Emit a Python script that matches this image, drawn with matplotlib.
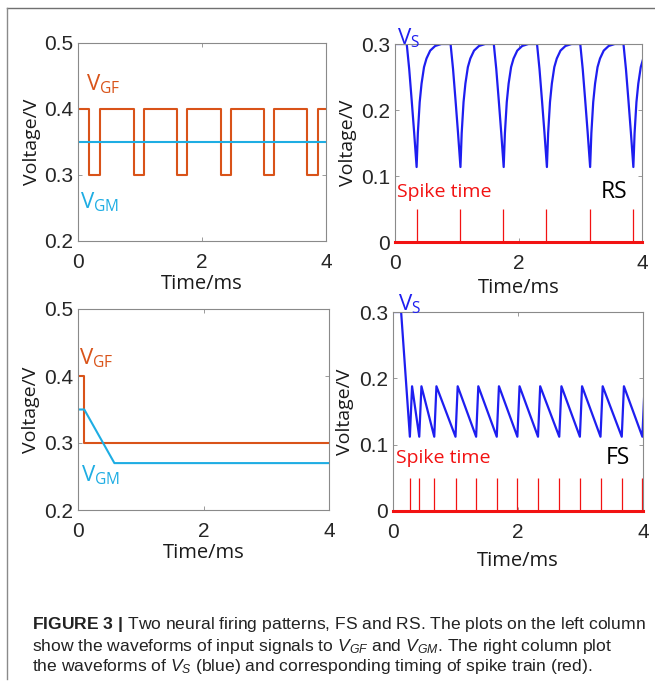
import matplotlib
matplotlib.use("Agg")
import matplotlib.pyplot as plt
from matplotlib.lines import Line2D
from matplotlib import font_manager

# ---------------- data ----------------
t_max = 4.0
# top-left: V_GF square wave (low-phase start/end times), V_GM constant
tl_gf_low_start = [0.18, 0.90, 1.59, 2.30, 3.00, 3.70]
tl_gf_low_end = [0.35, 1.06, 1.76, 2.47, 3.16, 3.87]
tl_gf_high, tl_gf_low = 0.40, 0.30
tl_gm_level = 0.35

# top-right (RS): V_S cycle profile, offsets from drop start
rs_drop_start = [0.19, 0.90, 1.60, 2.30, 3.00, 3.70]
rs_cycle_offset = [0.00, 0.04, 0.08, 0.12, 0.16, 0.18, 0.21, 0.24, 0.28, 0.32, 0.38, 0.46, 0.56]
rs_cycle_value = [0.300, 0.262, 0.215, 0.166, 0.1136, 0.165, 0.212, 0.240, 0.265, 0.278, 0.290, 0.297, 0.300]
rs_spikes = [0.35, 1.05, 1.75, 2.45, 3.15, 3.85]
spike_height = 0.05

# bottom-left: V_GF step and V_GM ramp
bl_gf_t = [0.0, 0.10, 0.10, 4.0]
bl_gf_v = [0.40, 0.40, 0.30, 0.30]
bl_gm_t = [0.0, 0.10, 0.58, 4.0]
bl_gm_v = [0.35, 0.35, 0.27, 0.27]

# bottom-right (FS): sawtooth V_S
fs_start_t = [0.0, 0.13]
fs_start_v = [0.30, 0.30]
fs_spikes = [0.27, 0.42, 0.66, 1.00, 1.33, 1.66, 1.99, 2.32, 2.66, 2.99, 3.32, 3.66, 3.99]
fs_vmin, fs_vmax, fs_rise = 0.112, 0.188, 0.035

# ---------------- style ----------------
ORANGE = "#D95319"
CYAN = "#1EADE3"
BLUE = "#1E1EF0"
RED = "#F21212"
SPINE = "#8a8a8a"
TICKC = "#262626"
LABEL_FONT = ["Open Sans", "DejaVu Sans"]
TICK_FONT = ["Liberation Sans", "DejaVu Sans"]
CAP_FONT = "Liberation Sans"
cap_size = 12.6

plt.rcParams["mathtext.fontset"] = "custom"
plt.rcParams["mathtext.rm"] = CAP_FONT
plt.rcParams["mathtext.it"] = CAP_FONT + ":italic"
plt.rcParams["mathtext.bf"] = CAP_FONT + ":bold"

W, H = 655, 681
fig = plt.figure(figsize=(W / 100, H / 100), dpi=100)


def px_axes(l, t, r, b):
    return fig.add_axes([l / W, 1 - b / H, (r - l) / W, (b - t) / H])


def style(ax, ylim, yticks, yticklabels, xlab_y, ylab_x):
    ax.set_xlim(0, t_max)
    ax.set_ylim(*ylim)
    ax.set_xticks([0, 2, 4])
    ax.set_xticklabels(["0", "2", "4"])
    ax.set_yticks(yticks)
    ax.set_yticklabels(yticklabels)
    for s in ax.spines.values():
        s.set_color(SPINE)
        s.set_linewidth(0.8)
    ax.tick_params(direction="in", top=True, right=True, length=3, width=0.6,
                   color=SPINE, labelcolor=TICKC, labelsize=15)
    ax.tick_params(axis="x", pad=8.5)
    ax.tick_params(axis="y", pad=3.5)
    for lab in ax.get_xticklabels() + ax.get_yticklabels():
        lab.set_family(TICK_FONT)
    ax.set_xlabel("Time/ms", family=LABEL_FONT, fontsize=14.5, color="#1a1a1a")
    ax.set_ylabel("Voltage/V", family=LABEL_FONT, fontsize=14, color="#1a1a1a")
    ax.xaxis.set_label_coords(0.5, xlab_y)
    ax.yaxis.set_label_coords(ylab_x, 0.5)


# ---- top-left
ax1 = px_axes(78, 43, 326, 241)
gf_t, gf_v = [0.0], [tl_gf_high]
for s, e in zip(tl_gf_low_start, tl_gf_low_end):
    gf_t += [s, s, e, e]
    gf_v += [tl_gf_high, tl_gf_low, tl_gf_low, tl_gf_high]
gf_t.append(t_max)
gf_v.append(tl_gf_high)
ax1.plot(gf_t, gf_v, color=ORANGE, lw=1.5)
ax1.plot([0, t_max], [tl_gm_level, tl_gm_level], color=CYAN, lw=1.5)
style(ax1, (0.2, 0.5), [0.2, 0.3, 0.4, 0.5], ["0.2", "0.3", "0.4", "0.5"], -0.165, -0.15)
ax1.text(0.13, 0.437, r"$\mathregular{V_{GF}}$", color=ORANGE, family=LABEL_FONT,
         fontsize=16, va="center", ha="left")
ax1.text(0.04, 0.259, r"$\mathregular{V_{GM}}$", color=CYAN, family=LABEL_FONT,
         fontsize=16, va="center", ha="left")

# ---- top-right
ax2 = px_axes(395, 44, 642, 242)
vs_t, vs_v = [0.0], [0.300]
for d in rs_drop_start:
    vs_t += [d + o for o in rs_cycle_offset]
    vs_v += rs_cycle_value
ax2.plot(vs_t, vs_v, color=BLUE, lw=1.6, clip_on=True)
ax2.vlines(rs_spikes, 0, spike_height, color=RED, lw=0.9)
ax2.plot([0, t_max], [0, 0], color=RED, lw=2.2, clip_on=False, zorder=3)
style(ax2, (0, 0.3), [0, 0.1, 0.2, 0.3], ["0", "0.1", "0.2", "0.3"], -0.18, -0.155)
ax2.text(0.03, 0.300, r"$\mathregular{V_S}$", color=BLUE, family=LABEL_FONT,
         fontsize=16, va="baseline", ha="left")
ax2.text(0.03, 0.0757, "Spike time", color=RED, family=LABEL_FONT, fontsize=14,
         va="center", ha="left")
ax2.text(3.33, 0.0757, "RS", color="black", family=LABEL_FONT, fontsize=16.5,
         va="center", ha="left")

# ---- bottom-left
ax3 = px_axes(78, 309, 329, 510)
ax3.plot(bl_gf_t, bl_gf_v, color=ORANGE, lw=1.5)
ax3.plot(bl_gm_t, bl_gm_v, color=CYAN, lw=1.5)
style(ax3, (0.2, 0.5), [0.2, 0.3, 0.4, 0.5], ["0.2", "0.3", "0.4", "0.5"], -0.165, -0.15)
ax3.text(0.02, 0.426, r"$\mathregular{V_{GF}}$", color=ORANGE, family=LABEL_FONT,
         fontsize=16, va="center", ha="left")
ax3.text(0.05, 0.252, r"$\mathregular{V_{GM}}$", color=CYAN, family=LABEL_FONT,
         fontsize=16, va="center", ha="left")

# ---- bottom-right
ax4 = px_axes(393, 312, 643, 511)
fs_t, fs_v = list(fs_start_t), list(fs_start_v)
for s in fs_spikes:
    fs_t += [s, s + fs_rise]
    fs_v += [fs_vmin, fs_vmax]
ax4.plot(fs_t, fs_v, color=BLUE, lw=1.6)
ax4.vlines(fs_spikes, 0, spike_height, color=RED, lw=0.9)
ax4.plot([0, t_max], [0, 0], color=RED, lw=2.2, clip_on=False, zorder=3)
style(ax4, (0, 0.3), [0, 0.1, 0.2, 0.3], ["0", "0.1", "0.2", "0.3"], -0.2, -0.155)
ax4.text(0.08, 0.302, r"$\mathregular{V_S}$", color=BLUE, family=LABEL_FONT,
         fontsize=16, va="baseline", ha="left")
ax4.text(0.04, 0.0795, "Spike time", color=RED, family=LABEL_FONT, fontsize=14,
         va="center", ha="left")
ax4.text(3.40, 0.0795, "FS", color="black", family=LABEL_FONT, fontsize=16.5,
         va="center", ha="left")

# ---- frame lines of the figure panel
fig.add_artist(Line2D([7 / W, 1.0], [1 - 8 / H, 1 - 8 / H], transform=fig.transFigure,
                      color="#707070", lw=1.0))
fig.add_artist(Line2D([7 / W, 7 / W], [1 - 8 / H, 1 - 679 / H], transform=fig.transFigure,
                      color="#8a8a8a", lw=1.0))

# ---- caption
cap_lines = [
    r"$\mathbf{FIGURE\ 3\ |}$ Two neural firing patterns, FS and RS. The plots on the left column",
    r"show the waveforms of input signals to $V_{GF}$ and $V_{GM}$. The right column plot",
    r"the waveforms of $V_S$ (blue) and corresponding timing of spike train (red).",
]
cap_y = [625, 646, 667]
for line, y in zip(cap_lines, cap_y):
    fig.text(32 / W, 1 - y / H, line, family=CAP_FONT, fontsize=cap_size,
             color="#222222", va="center", ha="left")

fig.savefig("out.png", dpi=100, facecolor="white")
